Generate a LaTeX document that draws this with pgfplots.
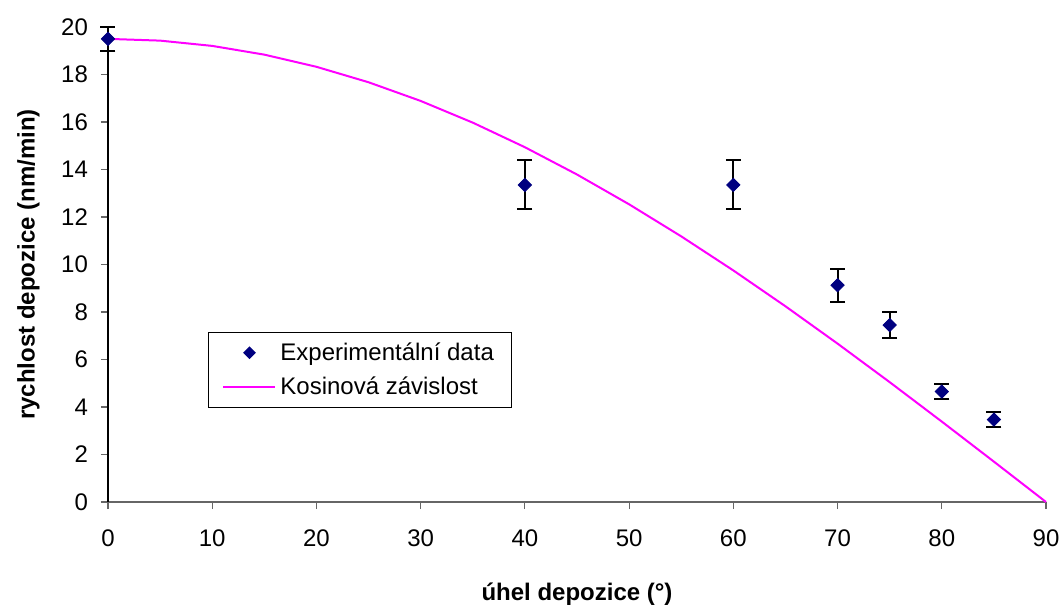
\documentclass[border=0pt]{standalone}
\usepackage{fontspec}
\setmainfont{Liberation Sans}
\usepackage{pgfplots}
\pgfplotsset{compat=1.18}
\definecolor{navy}{RGB}{0,0,128}
\definecolor{magentaline}{RGB}{255,0,255}
\pgfplotsset{
  lineleg/.style={legend image code/.code={\draw[##1] (0pt,0pt) -- (26pt,0pt);}},
  markleg/.style={legend image code/.code={\path[draw=none,fill=none] (0pt,-3.2pt) rectangle (26pt,3.2pt); \path[draw=none,fill=navy] (13pt,3.2pt) -- (16.2pt,0pt) -- (13pt,-3.2pt) -- (9.8pt,0pt) -- cycle;}},
}
\begin{document}
\begin{tikzpicture}
\begin{axis}[
  name=ax,
  scale only axis,
  width=469pt, height=237.5pt,
  xmin=0, xmax=90, ymin=0, ymax=20,
  xtick={0,10,...,90}, ytick={0,2,...,20},
  axis x line=bottom, axis y line=left,
  axis line style={-, line width=0.6pt},
  x axis line style={gray!80!black},
  tick align=outside, major tick length=3.5pt,
  tick style={gray!80!black, line width=0.6pt},
  /pgf/number format/assume math mode=true,
  ticklabel style={font=\fontsize{12}{14}\selectfont},
  xticklabel style={yshift=-7pt},
  yticklabel style={xshift=-3pt},
  xlabel={\textbf{úhel depozice (°)}},
  ylabel={\textbf{rychlost depozice (nm/min)}},
  label style={font=\fontsize{12}{14}\selectfont},
  xlabel style={yshift=-11pt},
  ylabel style={yshift=4pt},
  clip=false,
  legend style={at={(axis cs:9.59,7.16)}, anchor=north west, draw=black, line width=0.5pt,
    font=\fontsize{12}{14}\selectfont, inner xsep=7pt, inner ysep=3pt, row sep=3pt},
  legend cell align=left,
]
\addplot+[only marks, mark=square*, mark size=2.35pt, color=navy,
  mark options={rotate=45, fill=navy, draw=navy},
  markleg,
  error bars/.cd, y dir=both, y explicit,
  error bar style={black, line width=1pt},
  error mark options={rotate=90, mark size=3.75pt, black, line width=1pt}]
  coordinates {
  (0,19.5) +- (0,0.5)
  (40,13.35) +- (0,1.03)
  (60,13.35) +- (0,1.03)
  (70,9.13) +- (0,0.7)
  (75,7.45) +- (0,0.53)
  (80,4.65) +- (0,0.33)
  (85,3.47) +- (0,0.3)
  };
\addlegendentry{Experimentální data}
\addplot[color=magentaline, line width=1pt, mark=none, lineleg] coordinates {
(0,19.5) (5,19.426) (10,19.204) (15,18.836) (20,18.324) (25,17.673) (30,16.887)
(35,15.973) (40,14.938) (45,13.789) (50,12.534) (55,11.185) (60,9.75) (65,8.241)
(70,6.669) (75,5.047) (80,3.386) (85,1.700) (90,0)
};
\addlegendentry{Kosinová závislost}
\end{axis}
\pgfresetboundingbox
\path ([shift={(-54pt,-54pt)}]ax.south west) rectangle ([shift={(8.5pt,13.5pt)}]ax.north east);
\end{tikzpicture}
\end{document}
